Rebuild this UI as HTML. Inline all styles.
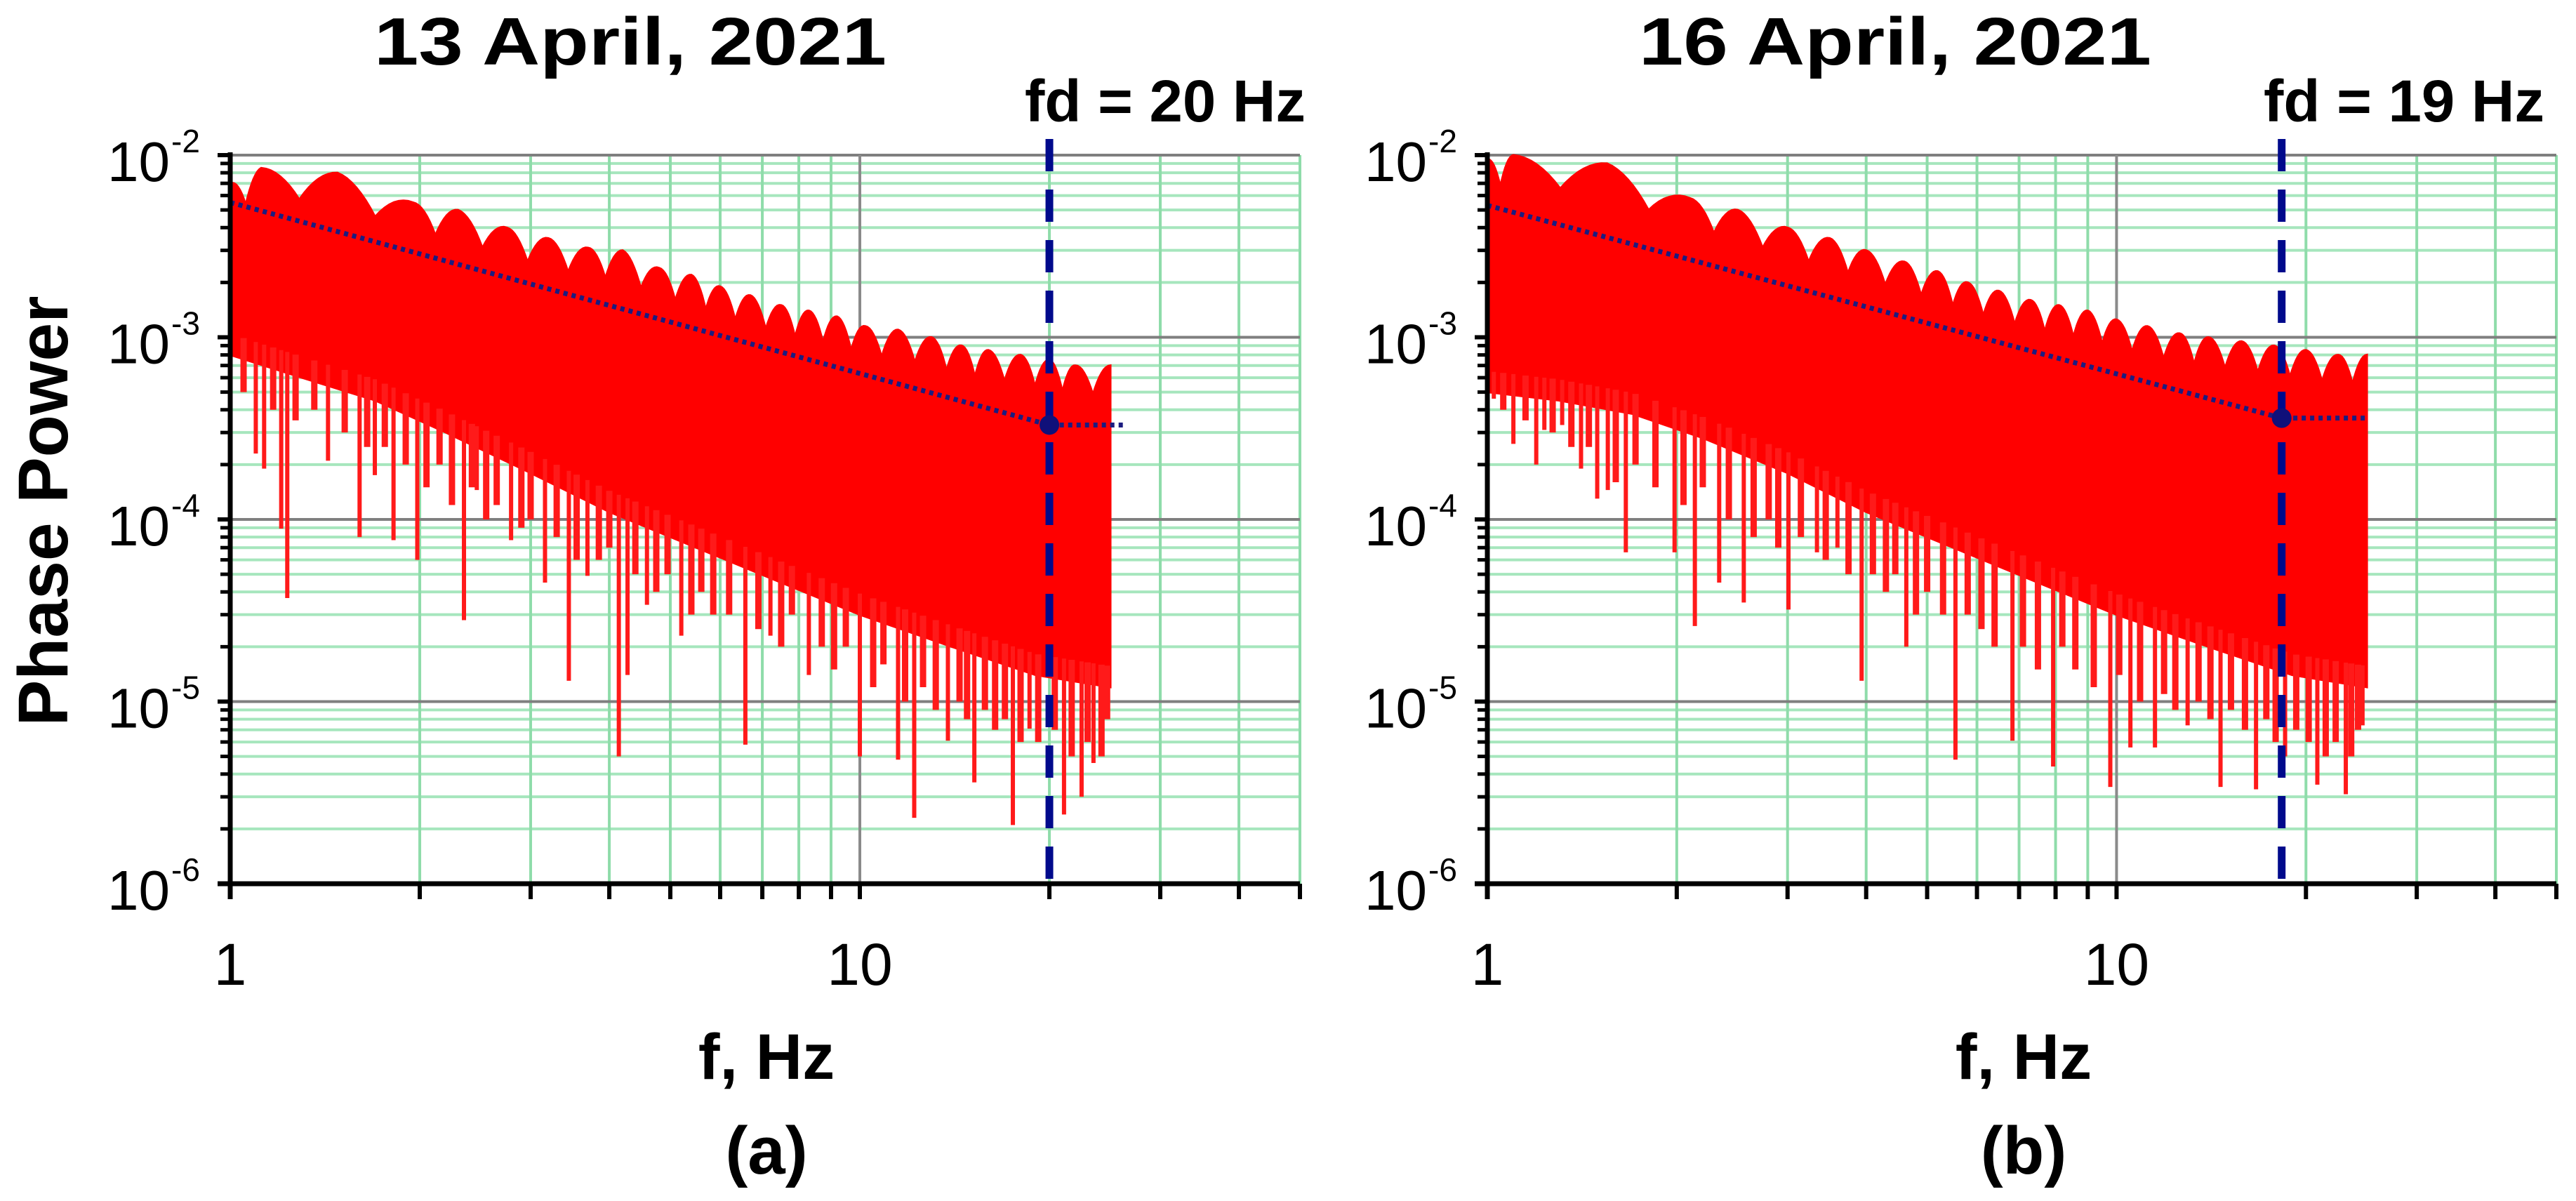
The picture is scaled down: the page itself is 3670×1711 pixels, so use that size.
<!DOCTYPE html>
<html><head><meta charset="utf-8">
<style>
html,body{margin:0;padding:0;background:#fff;}
svg{display:block;}
text{font-family:"Liberation Sans",sans-serif;fill:#000;}
</style></head>
<body>
<svg id="fig" width="3670" height="1711" viewBox="0 0 3670 1711" xmlns="http://www.w3.org/2000/svg">
<rect x="0" y="0" width="3670" height="1711" fill="#fff"/>
</svg>
<script>
// ===== Data: panel (a) 13 April 2021 =====
const peakFreqA = [1.0,1.12,1.48,1.95,2.3,2.75,3.2,3.7,4.2,4.8,5.4,6.0,6.7,7.5,8.3,9.2,10.2,11.5,13,14.5,16,18,20,22,25];
const peakValA  = [7e-3,8.5e-3,8e-3,5.5e-3,5e-3,4e-3,3.5e-3,3.1e-3,3e-3,2.4e-3,2.2e-3,1.9e-3,1.7e-3,1.5e-3,1.4e-3,1.3e-3,1.15e-3,1.1e-3,1e-3,9e-4,8.5e-4,8e-4,7.5e-4,7e-4,7e-4];
const floorFreqA = [1,1.3,1.7,2.2,3,4,5.5,7.5,10,14,19,25];
const floorValA  = [8e-4,6e-4,4.5e-4,3e-4,1.8e-4,1.1e-4,7e-5,4.5e-5,3e-5,2e-5,1.4e-5,1.2e-5];
const spikeFreqA = [1.098,1.132,1.205,1.232,1.430,1.605,1.697,1.817,1.982,2.351,2.464,2.793,3.162,3.450,3.693,4.142,4.276,4.591,5.205,6.579,7.211,8.299,10.0,11.5,12.2,13.8,15.2,17.5,18.6,21.1,22.5,23.5];
const spikeValA  = [2.3e-4,1.9e-4,8.9e-5,3.7e-5,2.1e-4,8e-5,1.75e-4,7.7e-5,6e-5,2.8e-5,1.45e-4,7.7e-5,4.5e-5,1.3e-5,4.9e-5,5e-6,1.4e-5,3.4e-5,2.3e-5,5.8e-6,2.3e-5,1.4e-5,5e-6,4.8e-6,2.3e-6,6.1e-6,3.6e-6,2.1e-6,7.1e-6,2.4e-6,3e-6,4.6e-6];
const minorSpikeFreqA = [1.05,1.17,1.27,1.36,1.52,1.65,1.76,1.9,2.05,2.15,2.25,2.42,2.55,2.65,2.9,3.0,3.3,3.55,3.85,4.0,4.4,4.75,4.95,5.4,5.6,5.85,6.2,6.9,7.5,7.8,8.7,9.1,9.5,10.5,10.9,11.8,12.6,13.2,14.4,14.8,15.8,16.4,17.0,18.0,19.2,20.4,21.7,23.0,24.2,24.7];
const minorSpikeValA  = [5e-4,4e-4,3.5e-4,4e-4,3e-4,2.5e-4,2.5e-4,2e-4,1.5e-4,2e-4,1.2e-4,1.5e-4,1e-4,1.2e-4,9e-5,1e-4,8e-5,6e-5,6e-5,7e-5,5e-5,4e-5,5e-5,3e-5,4e-5,3e-5,3e-5,2.5e-5,2e-5,3e-5,2e-5,1.5e-5,2e-5,1.2e-5,1.6e-5,1e-5,1.2e-5,9e-6,1e-5,8e-6,9e-6,7e-6,8e-6,6e-6,6e-6,7e-6,5e-6,6e-6,5e-6,8e-6];
const trendA = {f0:1, v0:5.5e-3, fd:20, vd:3.3e-4, fEnd:26.5};

// ===== Data: panel (b) 16 April 2021 =====
const peakFreqB = [1.0,1.1,1.55,2.1,2.5,3.0,3.5,4.0,4.6,5.2,5.8,6.5,7.3,8.1,9.0,10.0,11.2,12.6,14,15.8,17.8,20,22.5,25];
const peakValB  = [9.5e-3,1e-2,9e-3,5.8e-3,5e-3,4e-3,3.5e-3,3e-3,2.6e-3,2.3e-3,2e-3,1.8e-3,1.6e-3,1.5e-3,1.4e-3,1.25e-3,1.15e-3,1.05e-3,1e-3,9.5e-4,9e-4,8.5e-4,8e-4,8e-4];
const floorFreqB = [1,1.3,1.7,2.2,3,4,5.5,7.5,10,14,19,25];
const floorValB  = [5e-4,4.5e-4,3.8e-4,2.8e-4,1.8e-4,1.1e-4,7e-5,4.5e-5,3e-5,2e-5,1.4e-5,1.2e-5];
const spikeFreqB = [1.024,1.100,1.196,1.232,1.315,1.409,1.495,1.554,1.660,1.984,2.137,2.336,2.556,3.010,3.341,3.601,3.934,4.633,5.546,6.832,7.929,9.774,10.52,11.51,12.97,14.63,16.66,18.53,20.85,23.14,24.6];
const spikeValB  = [4.6e-4,2.6e-4,2e-4,3.1e-4,3.3e-4,1.9e-4,1.3e-4,1.45e-4,6.6e-5,6.6e-5,2.6e-5,4.5e-5,3.5e-5,3.2e-5,6.6e-5,7e-5,1.3e-5,2e-5,4.8e-6,6.1e-6,4.4e-6,3.4e-6,5.6e-6,5.6e-6,7.4e-6,3.4e-6,3.3e-6,5e-6,3.5e-6,3.1e-6,7.4e-6];
const minorSpikeFreqB = [1.06,1.15,1.27,1.36,1.45,1.6,1.72,1.85,2.05,2.2,2.42,2.65,2.8,2.9,3.15,3.45,3.75,4.1,4.3,4.45,4.8,5.0,5.3,5.8,6.1,6.4,7.1,7.5,8.2,8.6,9.2,10.1,10.9,11.9,12.4,13.5,14.1,15.2,16.0,17.3,17.9,19.3,20.2,21.5,22.3,23.6,24.2];
const minorSpikeValB  = [4e-4,3.5e-4,3e-4,2.5e-4,2.5e-4,1.6e-4,2e-4,1.5e-4,1.2e-4,1.5e-4,1e-4,8e-5,1e-4,7e-5,8e-5,6e-5,5e-5,5e-5,4e-5,5e-5,3e-5,4e-5,3e-5,3e-5,2.5e-5,2e-5,2e-5,1.5e-5,2e-5,1.5e-5,1.2e-5,1.4e-5,1e-5,1.1e-5,9e-6,1e-5,8e-6,9e-6,7e-6,8e-6,6e-6,7e-6,6e-6,5e-6,6e-6,5e-6,7e-6];
const trendB = {f0:1, v0:5.3e-3, fd:18.3, vd:3.6e-4, fEnd:25};

// axis tick arrays
const yExponents = [-2,-3,-4,-5,-6];
const xMajorTicks = [1,10];
const xMinorTicks = [2,3,4,5,6,7,8,9,20,30,40,50];

const NS = "http://www.w3.org/2000/svg";
const svg = document.getElementById('fig');
function mk(tag, attrs, parent){
  const e = document.createElementNS(NS, tag);
  for (const k in attrs) e.setAttribute(k, attrs[k]);
  (parent||svg).appendChild(e);
  return e;
}

function panel(opt){
  const {left, right, top, bottom, xmax, title, titleX, fdLabel, fdLabelX, sub, peaksF, peaksV, floorF, floorV, spF, spV, mspF, mspV, trend, id} = opt;
  const g = mk('g', {});
  
  
  const X = f => left + (Math.log10(f) / Math.log10(xmax)) * (right - left);
  const Y = v => top + (-2 - Math.log10(v)) / 4 * (bottom - top);

  const grid = mk('g', {}, g);
  
  
  for (let e = -6; e < -2; e++) {
    for (let m = 2; m <= 9; m++) {
      const y = Y(m * Math.pow(10, e));
      const l = mk('line', {x1:left, x2:right, y1:y, y2:y, stroke:'#a6e6bd', 'stroke-width':4}, grid);
      
      
    }
  }
  for (const f of xMinorTicks) {
    const x = X(f);
    const l = mk('line', {x1:x, x2:x, y1:top, y2:bottom, stroke:'#8fdcaa', 'stroke-width':4}, grid);
    
    
  }
  for (const e of yExponents) {
    const y = Y(Math.pow(10, e));
    const l = mk('line', {x1:left, x2:right, y1:y, y2:y, stroke:'#7f7f7f', 'stroke-width':4}, grid);
    
    
  }
  {
    const x = X(10);
    const l = mk('line', {x1:x, x2:x, y1:top, y2:bottom, stroke:'#8a8a8a', 'stroke-width':4}, grid);
    
    
  }

  // red spectrum: upper envelope with rounded lobes and sharp valleys
  const env = [];
  for (let i = 0; i < peaksF.length - 1; i++) {
    const la = Math.log10(peaksF[i]), lb = Math.log10(peaksF[i+1]);
    const va = Math.log10(peaksV[i]), vb = Math.log10(peaksV[i+1]);
    const dip = 0.16;
    const n = 16;
    for (let k = 0; k < n; k++) {
      const t = k / n;
      const u = 1 - Math.abs(1 - 2 * t);
      const lf = la + (lb - la) * t;
      const lv = va + (vb - va) * t - dip * u * u;
      env.push([X(Math.pow(10, lf)), Y(Math.pow(10, lv))]);
    }
  }
  env.push([X(peaksF[peaksF.length-1]), Y(peaksV[peaksV.length-1])]);
  const fl = [];
  for (let i = floorF.length - 1; i >= 0; i--) fl.push([X(floorF[i]), Y(floorV[i])]);
  const pts = env.concat(fl).map(p => p[0].toFixed(1) + ',' + p[1].toFixed(1)).join(' ');
  const body = mk('polygon', {points:pts, fill:'#ff0000', stroke:'#ff0000', 'stroke-width':3}, g);
  
  

  const sg = mk('g', {}, g);
  
  
  const floorAt = f => {
    for (let i = 0; i < floorF.length - 1; i++) {
      if (f >= floorF[i] && f <= floorF[i+1]) {
        const t = (Math.log10(f) - Math.log10(floorF[i])) / (Math.log10(floorF[i+1]) - Math.log10(floorF[i]));
        return Math.pow(10, Math.log10(floorV[i]) + t * (Math.log10(floorV[i+1]) - Math.log10(floorV[i])));
      }
    }
    return floorV[floorV.length-1];
  };
  const drawSpikes = (F, V, w) => {
    for (let i = 0; i < F.length; i++) {
      const x = X(F[i]);
      const l = mk('line', {x1:x, x2:x, y1:Y(floorAt(F[i])) - 30, y2:Y(V[i]), stroke:'#ff1a1a', 'stroke-width':w}, sg);
      
      
    }
  };
  drawSpikes(mspF, mspV, 9);
  drawSpikes(spF, spV, 6);

  const tl = mk('polyline', {points:`${X(trend.f0)},${Y(trend.v0)} ${X(trend.fd)},${Y(trend.vd)} ${X(trend.fEnd)},${Y(trend.vd)}`,
    fill:'none', stroke:'#1c1c80', 'stroke-width':7, 'stroke-dasharray':'6 6'}, g);
  
  

  const xd = X(trend.fd);
  const vd = mk('line', {x1:xd, x2:xd, y1:198, y2:bottom, stroke:'#000a8c', 'stroke-width':11, 'stroke-dasharray':'46 26'}, g);
  
  
  const dot = mk('circle', {cx:xd, cy:Y(trend.vd), r:14, fill:'#10107a'}, g);
  
  

  const ax = mk('g', {}, g);
  
  
  const yl = mk('line', {x1:left, x2:left, y1:top - 4, y2:bottom + 22, stroke:'#000', 'stroke-width':7}, ax);
  
  
  const xl = mk('line', {x1:left - 18, x2:right, y1:bottom, y2:bottom, stroke:'#000', 'stroke-width':7}, ax);
  
  
  for (let e = -6; e < -2; e++) {
    for (let m = 2; m <= 9; m++) {
      const y = Y(m * Math.pow(10, e));
      const t = mk('line', {x1:left - 14, x2:left, y1:y, y2:y, stroke:'#000', 'stroke-width':5}, ax);
      
      
    }
  }
  for (const e of yExponents) {
    const y = Y(Math.pow(10, e));
    const t = mk('line', {x1:left - 18, x2:left, y1:y, y2:y, stroke:'#000', 'stroke-width':6}, ax);
    
    
    const tx = mk('text', {x:left - 86, y:y + 37, 'font-size':80, 'text-anchor':'end'}, ax);
    
    
    tx.textContent = '10';
    const sp = mk('text', {x:left - 84, y:y - 4, 'font-size':46}, ax);
    
    
    sp.textContent = String(e);
  }
  for (const f of xMajorTicks.concat(xMinorTicks)) {
    const x = X(f);
    const t = mk('line', {x1:x, x2:x, y1:bottom, y2:bottom + 22, stroke:'#000', 'stroke-width':6}, ax);
    
    
  }
  for (const f of xMajorTicks) {
    const tx = mk('text', {x:X(f), y:1403, 'font-size':84, 'text-anchor':'middle'}, ax);
    
    
    tx.textContent = String(f);
  }

  const tt = mk('text', {x:titleX, y:92, 'font-size':96, 'font-weight':'bold', 'text-anchor':'middle', textLength:730, lengthAdjust:'spacingAndGlyphs'}, g);
  
  
  tt.textContent = title;
  const fdt = mk('text', {x:fdLabelX, y:173, 'font-size':84, 'font-weight':'bold', textLength:400, lengthAdjust:'spacingAndGlyphs'}, g);
  
  
  fdt.textContent = fdLabel;
  const xt = mk('text', {x:left + 764, y:1537, 'font-size':92, 'font-weight':'bold', 'text-anchor':'middle'}, g);
  
  
  xt.textContent = 'f, Hz';
  const st = mk('text', {x:left + 764, y:1672, 'font-size':96, 'font-weight':'bold', 'text-anchor':'middle'}, g);
  
  
  st.textContent = sub;
}

panel({id:'a', left:328, right:1852, top:221, bottom:1259, xmax:50,
  title:'13 April, 2021', titleX:898, fdLabel:'fd = 20 Hz', fdLabelX:1460, sub:'(a)',
  peaksF:peakFreqA, peaksV:peakValA, floorF:floorFreqA, floorV:floorValA, spF:spikeFreqA, spV:spikeValA,
  mspF:minorSpikeFreqA, mspV:minorSpikeValA, trend:trendA});
panel({id:'b', left:2119, right:3642, top:221, bottom:1259, xmax:50,
  title:'16 April, 2021', titleX:2700, fdLabel:'fd = 19 Hz', fdLabelX:3225, sub:'(b)',
  peaksF:peakFreqB, peaksV:peakValB, floorF:floorFreqB, floorV:floorValB, spF:spikeFreqB, spV:spikeValB,
  mspF:minorSpikeFreqB, mspV:minorSpikeValB, trend:trendB});

const yt = document.createElementNS(NS, 'text');
yt.setAttribute('x', 0); yt.setAttribute('y', 0);
yt.setAttribute('font-size', 100);
yt.setAttribute('font-weight', 'bold');
yt.setAttribute('text-anchor', 'middle');
yt.setAttribute('textLength', 613);
yt.setAttribute('lengthAdjust', 'spacingAndGlyphs');
yt.setAttribute('transform', 'translate(96,728) rotate(-90)');


yt.textContent = 'Phase Power';
svg.appendChild(yt);
</script>
</body></html>
